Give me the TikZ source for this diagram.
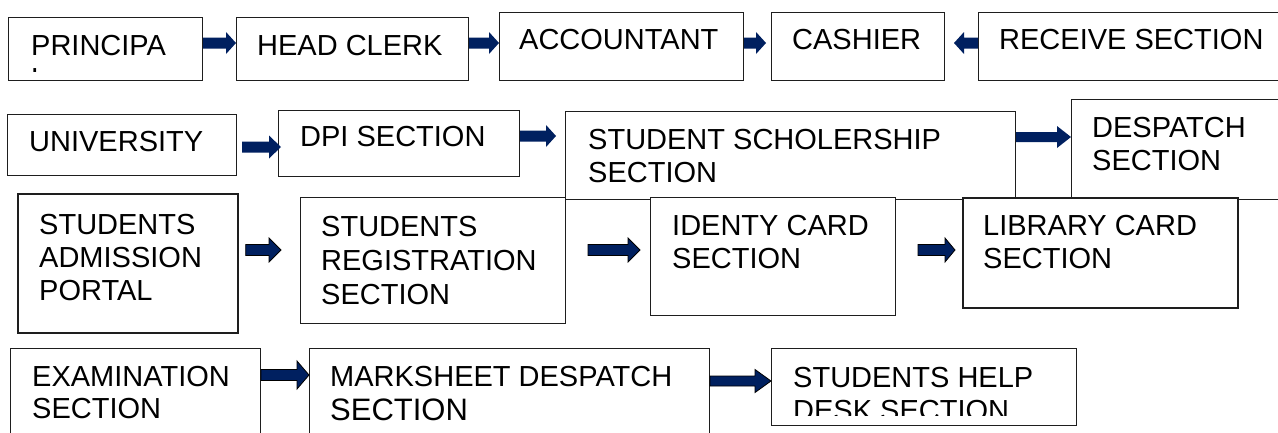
\documentclass[tikz,border=0pt]{standalone}
\usepackage{fontspec}
\setmainfont{Liberation Sans}
\usetikzlibrary{calc}
\definecolor{navyarrow}{RGB}{0,32,96}
\definecolor{boxline}{RGB}{30,30,30}
\tikzset{
 box/.style={draw=boxline, line width=1pt, fill=white, inner sep=0pt, anchor=north west},
 boxthick/.style={box, line width=1.7pt},
 txt/.style={font=\fontsize{29}{33}\selectfont, align=left, inner sep=0pt, anchor=north west, text=black},
 blockarrow/.style={fill=navyarrow},
 blockarrowlined/.style={fill=navyarrow, draw=black, line width=0.8pt, line join=miter},
}
\newcommand\barrow[7][blockarrow]{%
 \path[#1] let \p1=#2, \p2=#3 in
 (\x1,{-#4pt+#5pt}) -- ({\x2-(#7pt)},{-#4pt+#5pt}) -- ({\x2-(#7pt)},{-#4pt+#6pt}) -- (\x2,{-#4pt}) -- ({\x2-(#7pt)},{-#4pt-#6pt}) -- ({\x2-(#7pt)},{-#4pt-#5pt}) -- (\x1,{-#4pt-#5pt}) -- cycle;}
\begin{document}
\begin{tikzpicture}[x=1pt,y=-1pt]
\clip (0,0) rectangle (1278,432);
\fill[white] (0,0) rectangle (1278,432);
% ---------- Row 1
\node[box, minimum width=194pt, minimum height=63pt] (pr) at (8,17) {};
\begin{scope}
\clip (8,17) rectangle (202,71);
\node[txt] (prt) at (31,35) {PRINCIPA\\L};
\end{scope}
\node[box, minimum width=232pt, minimum height=63pt] (hc) at (236,17) {};
\node[txt] (hct) at (257,35) {HEAD CLERK};
\node[box, minimum width=244pt, minimum height=68pt] (acc) at (499,12) {};
\node[txt] (acct) at (519,29) {ACCOUNTANT};
\node[box, minimum width=173pt, minimum height=68pt] (cash) at (771,12) {};
\node[txt] (casht) at (792,29) {CASHIER};
\node[box, minimum width=330pt, minimum height=68pt] (rec) at (978,12) {};
\node[txt] (rect) at (999,29) {RECEIVE SECTION};
\barrow{(pr.east)}{(hc.west)}{43}{5.5}{11}{10}
\barrow{(hc.east)}{(acc.west)}{43}{5.5}{11}{10}
\barrow{(acc.east)}{([xshift=-5pt]cash.west)}{43}{5.5}{11}{10}
\barrow{(rec.west)}{([xshift=9pt]cash.east)}{43}{5.5}{11}{-10}
% ---------- Row 2
\node[box, minimum width=229pt, minimum height=61pt] (uni) at (7,114) {};
\node[txt] (unit) at (29,131) {UNIVERSITY};
\node[box, minimum width=241pt, minimum height=66pt] (dpi) at (278,110) {};
\node[txt] (dpit) at (300,126) {DPI SECTION};
\node[box, minimum width=450pt, minimum height=88pt] (sch) at (565,111) {};
\node[txt] (scht) at (588,129) {STUDENT SCHOLERSHIP\\SECTION};
\node[box, minimum width=250pt, minimum height=100pt] (des) at (1071,99) {};
\node[txt] (dest) at (1092,117) {DESPATCH\\SECTION};
\barrow{([xshift=5pt]uni.east)}{([xshift=3pt]dpi.west)}{147}{5.5}{11.5}{12}
\barrow{(dpi.east)}{([xshift=-9pt]sch.west)}{136}{5.5}{11}{10}
\barrow{(sch.east)}{(des.west)}{137}{5}{11}{14}
% ---------- Row 3
\node[boxthick, minimum width=220pt, minimum height=139pt] (adm) at (17,193) {};
\node[txt] (admt) at (39,214) {STUDENTS\\ADMISSION\\PORTAL};
\node[box, minimum width=265pt, minimum height=126pt] (reg) at (300,197) {};
\node[txt, font=\fontsize{29}{34}\selectfont] (regt) at (321,216) {STUDENTS\\REGISTRATION\\SECTION};
\node[box, minimum width=245pt, minimum height=118pt] (id) at (650,197) {};
\node[txt] (idt) at (672,215) {IDENTY CARD\\SECTION};
\node[boxthick, minimum width=275pt, minimum height=110pt] (lib) at (962,197) {};
\node[txt] (libt) at (983,215) {LIBRARY CARD\\SECTION};
\barrow[blockarrowlined]{([xshift=7pt]adm.east)}{([xshift=-19pt]reg.west)}{250}{5.5}{12}{12}
\barrow[blockarrowlined]{([xshift=22pt]reg.east)}{([xshift=-10pt]id.west)}{250}{5.5}{12}{12}
\barrow[blockarrowlined]{([xshift=22pt]id.east)}{([xshift=-7pt]lib.west)}{250}{5.5}{12}{10}
% ---------- Row 4
\node[box, minimum width=250pt, minimum height=120pt] (ex) at (10,348) {};
\node[txt, font=\fontsize{29}{32}\selectfont] (ext) at (32,366) {EXAMINATION\\SECTION};
\node[box, minimum width=400pt, minimum height=120pt] (ms) at (309,348) {};
\node[txt] (mst) at (330,366) {MARKSHEET DESPATCH\\[1pt]\fontsize{31}{34}\selectfont SECTION};
\node[box, minimum width=305pt, minimum height=77pt] (help) at (771,348) {};
\begin{scope}
\clip (771,348) rectangle (1076,415);
\node[txt] (helpt) at (793,367) {STUDENTS HELP\\DESK SECTION};
\end{scope}
\barrow[blockarrowlined]{(ex.east)}{(ms.west)}{375}{5.5}{14}{12}
\barrow[blockarrowlined]{(ms.east)}{(help.west)}{381}{5}{11.5}{16}
\end{tikzpicture}
\end{document}
